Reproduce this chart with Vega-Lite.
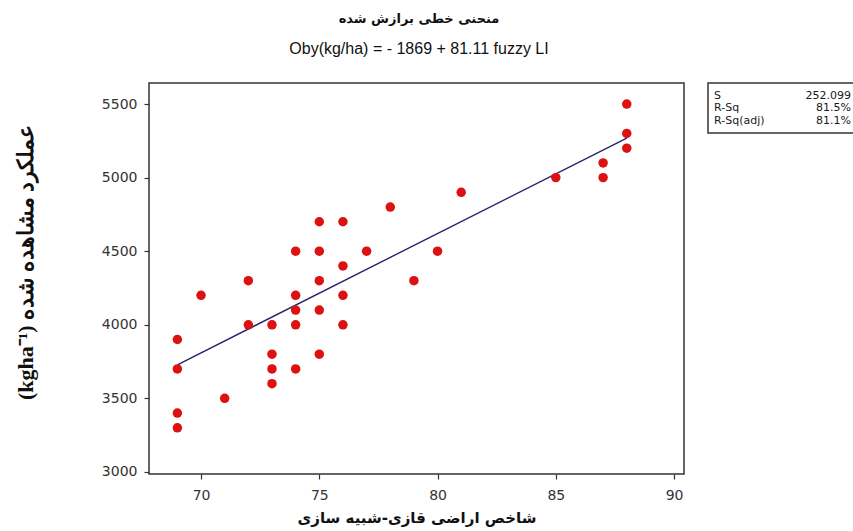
{
  "$schema": "https://vega.github.io/schema/vega-lite/v6.json",
  "padding": {"left": 13, "top": 13, "right": 2, "bottom": 2},
  "background": "white",
  "title": {
    "text": "منحنی خطی برازش شده",
    "subtitle": "Oby(kg/ha) =  - 1869 + 81.11 fuzzy LI",
    "anchor": "middle",
    "frame": "bounds",
    "dx": -15,
    "font": "DejaVu Sans",
    "fontSize": 13,
    "fontWeight": "bold",
    "color": "#111111",
    "subtitleFont": "Liberation Sans",
    "subtitleFontSize": 16,
    "subtitleColor": "#111111",
    "subtitlePadding": 15,
    "offset": 25
  },
  "config": {
    "view": {"stroke": "#333333", "strokeWidth": 1.5},
    "font": "DejaVu Sans"
  },
  "datasets": {
    "pts": [
      {"fuzzyLI": 69, "Oby": 3900}, {"fuzzyLI": 69, "Oby": 3700}, {"fuzzyLI": 69, "Oby": 3400}, {"fuzzyLI": 69, "Oby": 3300},
      {"fuzzyLI": 70, "Oby": 4200},
      {"fuzzyLI": 71, "Oby": 3500},
      {"fuzzyLI": 72, "Oby": 4300}, {"fuzzyLI": 72, "Oby": 4000},
      {"fuzzyLI": 73, "Oby": 4000}, {"fuzzyLI": 73, "Oby": 3800}, {"fuzzyLI": 73, "Oby": 3700}, {"fuzzyLI": 73, "Oby": 3600},
      {"fuzzyLI": 74, "Oby": 4500}, {"fuzzyLI": 74, "Oby": 4200}, {"fuzzyLI": 74, "Oby": 4100}, {"fuzzyLI": 74, "Oby": 4000}, {"fuzzyLI": 74, "Oby": 3700},
      {"fuzzyLI": 75, "Oby": 4700}, {"fuzzyLI": 75, "Oby": 4500}, {"fuzzyLI": 75, "Oby": 4300}, {"fuzzyLI": 75, "Oby": 4100}, {"fuzzyLI": 75, "Oby": 3800},
      {"fuzzyLI": 76, "Oby": 4700}, {"fuzzyLI": 76, "Oby": 4400}, {"fuzzyLI": 76, "Oby": 4200}, {"fuzzyLI": 76, "Oby": 4000},
      {"fuzzyLI": 77, "Oby": 4500},
      {"fuzzyLI": 78, "Oby": 4800},
      {"fuzzyLI": 79, "Oby": 4300},
      {"fuzzyLI": 80, "Oby": 4500},
      {"fuzzyLI": 81, "Oby": 4900},
      {"fuzzyLI": 85, "Oby": 5000},
      {"fuzzyLI": 87, "Oby": 5100}, {"fuzzyLI": 87, "Oby": 5000},
      {"fuzzyLI": 88, "Oby": 5500}, {"fuzzyLI": 88, "Oby": 5300}, {"fuzzyLI": 88, "Oby": 5200}
    ],
    "fit": [
      {"fuzzyLI": 69, "Oby": 3728},
      {"fuzzyLI": 88, "Oby": 5269}
    ],
    "stats": [
      {"label": "S", "value": "252.099"},
      {"label": "R-Sq", "value": "81.5%"},
      {"label": "R-Sq(adj)", "value": "81.1%"}
    ]
  },
  "spacing": 22,
  "hconcat": [
    {
      "width": 535,
      "height": 391,
      "layer": [
        {
          "data": {"name": "fit"},
          "mark": {"type": "line", "color": "#25256e", "strokeWidth": 1.4},
          "encoding": {
            "x": {
              "field": "fuzzyLI", "type": "quantitative",
              "scale": {"domain": [67.8, 90.42], "nice": false, "zero": false},
              "axis": {
                "title": "شاخص اراضی قازی-شبیه سازی",
                "values": [70, 75, 80, 85, 90],
                "format": "d",
                "domain": false, "grid": false,
                "tickColor": "#333333", "tickSize": 5, "tickWidth": 1.2,
                "labelFont": "DejaVu Sans", "labelFontSize": 14, "labelColor": "#333333", "labelPadding": 9,
                "titleFont": "DejaVu Sans", "titleFontSize": 15, "titleFontWeight": "bold", "titleColor": "#111111", "titlePadding": 8
              }
            },
            "y": {
              "field": "Oby", "type": "quantitative",
              "scale": {"domain": [2986, 5643], "nice": false, "zero": false},
              "axis": {
                "title": "(kgha⁻¹) عملکرد مشاهده شده",
                "values": [3000, 3500, 4000, 4500, 5000, 5500],
                "format": "d",
                "domain": false, "grid": false,
                "tickColor": "#333333", "tickSize": 5, "tickWidth": 1.2,
                "labelFont": "DejaVu Sans", "labelFontSize": 14, "labelColor": "#333333", "labelPadding": 7,
                "titleFont": "Liberation Serif", "titleFontSize": 22, "titleFontWeight": "bold", "titleColor": "#111111",
                "titleX": -124, "titleY": 179, "titleAngle": -90, "titleAlign": "center", "titleBaseline": "middle"
              }
            }
          }
        },
        {
          "data": {"name": "pts"},
          "mark": {"type": "circle", "color": "#dd1111", "opacity": 1, "size": 90},
          "encoding": {
            "x": {"field": "fuzzyLI", "type": "quantitative"},
            "y": {"field": "Oby", "type": "quantitative"}
          }
        }
      ]
    },
    {
      "width": 146,
      "height": 50,
      "data": {"name": "stats"},
      "encoding": {
        "y": {"field": "label", "type": "ordinal", "sort": ["S", "R-Sq", "R-Sq(adj)"], "scale": {"type": "point", "padding": 1}, "axis": null}
      },
      "layer": [
        {
          "mark": {"type": "text", "align": "left", "dx": 6, "fontSize": 11, "font": "DejaVu Sans", "color": "#1a1a1a"},
          "encoding": {
            "x": {"datum": 0, "type": "quantitative", "scale": {"domain": [0, 1]}, "axis": null},
            "text": {"field": "label"}
          }
        },
        {
          "mark": {"type": "text", "align": "right", "dx": -3, "fontSize": 11, "font": "DejaVu Sans", "color": "#1a1a1a"},
          "encoding": {
            "x": {"datum": 1, "type": "quantitative"},
            "text": {"field": "value"}
          }
        }
      ]
    }
  ]
}
